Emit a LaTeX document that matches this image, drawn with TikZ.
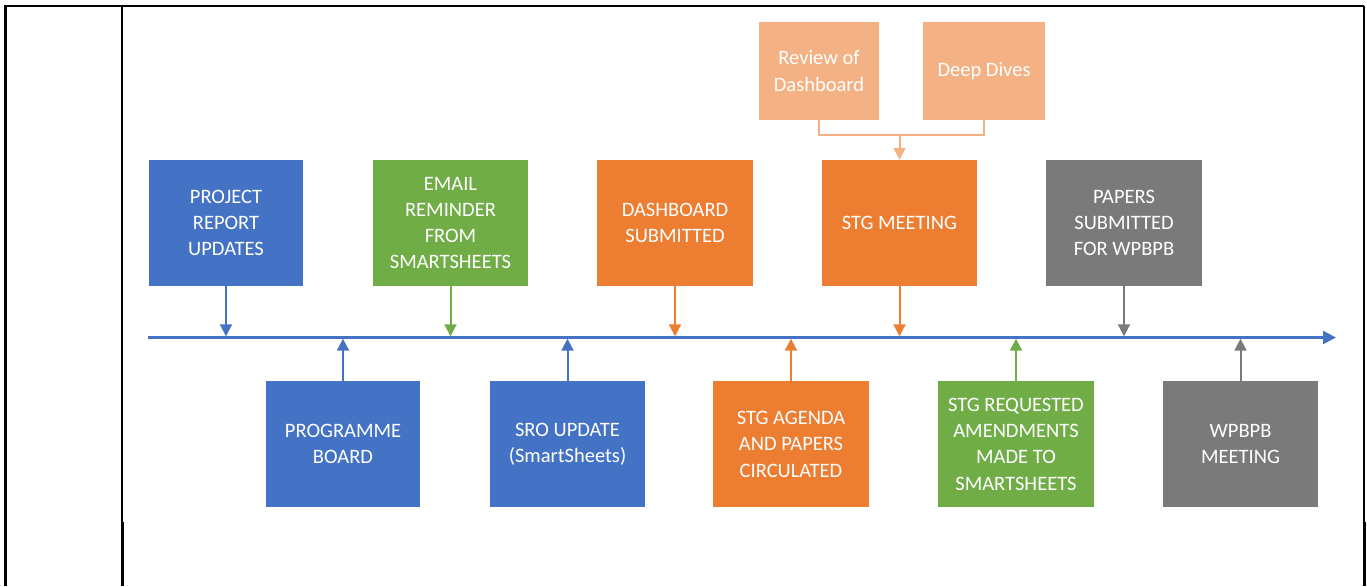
\documentclass[tikz,border=0pt]{standalone}
\usepackage{fontspec}
\setmainfont{Carlito}
\usetikzlibrary{arrows.meta}
\definecolor{cblue}{HTML}{4472C4}
\definecolor{cgreen}{HTML}{70AD47}
\definecolor{corange}{HTML}{ED7D31}
\definecolor{cgray}{HTML}{7A7A7A}
\definecolor{clight}{HTML}{F4B183}
\begin{document}
\begin{tikzpicture}[x=1pt,y=-1pt,
  box/.style={minimum width=155pt, minimum height=126pt, inner sep=0pt,
    text=white, align=center, font=\fontsize{20.5}{26.3}\selectfont},
  lbox/.style={box, fill=clight, minimum height=98pt},
  bluebox/.style={box, fill=cblue},
  greenbox/.style={box, fill=cgreen},
  orangebox/.style={box, fill=corange},
  graybox/.style={box, fill=cgray},
  conn/.style={line width=2pt, -{Triangle[width=12pt,length=12pt]}},
  tline/.style={line width=2.5pt, cblue, -{Triangle[width=13pt,length=13pt]}},
  rule/.style={black, line width=2pt}
]
\useasboundingbox (0,0) rectangle (1367,586);
% table rules
\draw[rule, line width=2.5pt] (5.3,586) -- (5.3,6);
\draw[rule] (4,6) -- (1364,6);
\draw[rule, line width=2pt] (1363.5,6) -- (1363.5,522);
\draw[rule, line width=2.8pt] (1364.5,522) -- (1364.5,586);
\draw[rule, line width=1.4pt] (122,6) -- (122,522);
\draw[rule, line width=2.8pt] (122.6,522) -- (122.6,586);

% timeline
\coordinate (ts) at (148,337.5);
\coordinate (te) at (1336,337.5);
\draw[tline] (ts) -- (te);

% top row
\node[bluebox, minimum width=154pt] (proj) at (226,223) {PROJECT\\REPORT\\UPDATES};
\node[greenbox] (email) at (450.5,223) {EMAIL\\REMINDER\\FROM\\SMARTSHEETS};
\node[orangebox, minimum width=156pt] (dash) at (675,223) {DASHBOARD\\SUBMITTED};
\node[orangebox] (stg) at (899.5,223) {STG MEETING};
\node[graybox, minimum width=156pt] (papers) at (1124,223) {PAPERS\\SUBMITTED\\FOR WPBPB};

% bottom row
\node[bluebox, minimum width=154pt, minimum height=125.5pt] (prog) at (343,444.2) {PROGRAMME\\BOARD};
\node[bluebox, minimum height=125.5pt] (sro) at (567.5,444.2) {SRO UPDATE\\(SmartSheets)};
\node[orangebox, minimum width=156pt, minimum height=125.5pt] (agenda) at (791,444.2) {STG AGENDA\\AND PAPERS\\CIRCULATED};
\node[greenbox, minimum width=156pt, minimum height=125.5pt] (req) at (1016,444.2) {STG REQUESTED\\AMENDMENTS\\MADE TO\\SMARTSHEETS};
\node[graybox, minimum height=125.5pt] (wpbpb) at (1240.5,444.2) {WPBPB\\MEETING};

% light boxes
\node[lbox, minimum width=120pt] (rev) at (819,71) {Review of\\Dashboard};
\node[lbox, minimum width=122pt] (deep) at (984,71) {Deep Dives};
\coordinate (j) at (899.5,135);
\draw[clight, line width=2.5pt] (rev.south) |- (j) -| (deep.south);
\draw[conn, clight] (j) -- (stg.north);

% connectors to the timeline
\draw[conn, cblue, shorten >=1.2pt] (proj.south) -- (proj.south |- ts);
\draw[conn, cgreen, shorten >=1.2pt] (email.south) -- (email.south |- ts);
\draw[conn, corange, shorten >=1.2pt] (dash.south) -- (dash.south |- ts);
\draw[conn, corange, shorten >=1.2pt] (stg.south) -- (stg.south |- ts);
\draw[conn, cgray, shorten >=1.2pt] (papers.south) -- (papers.south |- ts);
\draw[conn, cblue, shorten >=1.2pt] (prog.north) -- (prog.north |- ts);
\draw[conn, cblue, shorten >=1.2pt] (sro.north) -- (sro.north |- ts);
\draw[conn, corange, shorten >=1.2pt] (agenda.north) -- (agenda.north |- ts);
\draw[conn, cgreen, shorten >=1.2pt] (req.north) -- (req.north |- ts);
\draw[conn, cgray, shorten >=1.2pt] (wpbpb.north) -- (wpbpb.north |- ts);
\end{tikzpicture}
\end{document}
